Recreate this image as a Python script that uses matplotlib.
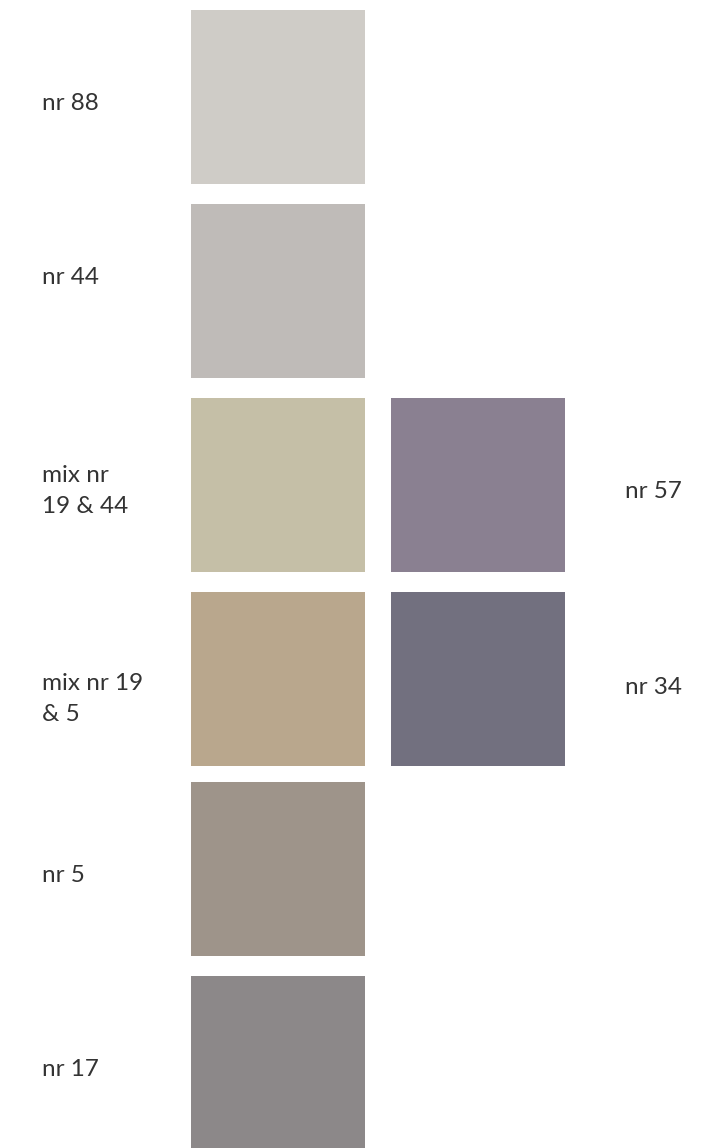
import matplotlib.pyplot as plt

plt.rcParams['font.family'] = ['Lato', 'DejaVu Sans']

# swatches: label, colour, column, top edge (px)
names = ["nr 88", "nr 44", "mix nr 19 & 44", "mix nr 19 & 5", "nr 5", "nr 17",
         "nr 57", "nr 34"]
colours = ["#cfccc7", "#bfbbb8", "#c5bfa7", "#b9a78d", "#9e948a", "#8c8889",
           "#8a8091", "#72707f"]
cols = [0, 0, 0, 0, 0, 0, 1, 1]
tops = [10, 204, 398, 592, 782, 976, 398, 592]

# text labels, shown left for column 0 and right for column 1
label_text = ["nr 88", "nr 44", "mix nr\n19 & 44", "mix nr 19\n& 5", "nr 5", "nr 17",
              "nr 57", "nr 34"]
label_y = [104, 278, 491, 699, 876, 1070, 492, 687]

W, H = 717, 1148
col_x = [191, 391]
size = 174

fig = plt.figure(figsize=(W / 100, H / 100), dpi=100)
ax = fig.add_axes([0, 0, 1, 1])
ax.set_xlim(0, W)
ax.set_ylim(H, 0)
ax.axis('off')

for i in range(len(names)):
    x = col_x[cols[i]]
    ax.bar(x, size, width=size, bottom=tops[i], align='edge',
           color=colours[i], linewidth=0)
    tx = 42 if cols[i] == 0 else 625
    ax.text(tx, label_y[i], label_text[i], fontsize=17.5, color='#333333',
            ha='left', va='center', linespacing=1.6)

fig.savefig('out.png', dpi=100)
